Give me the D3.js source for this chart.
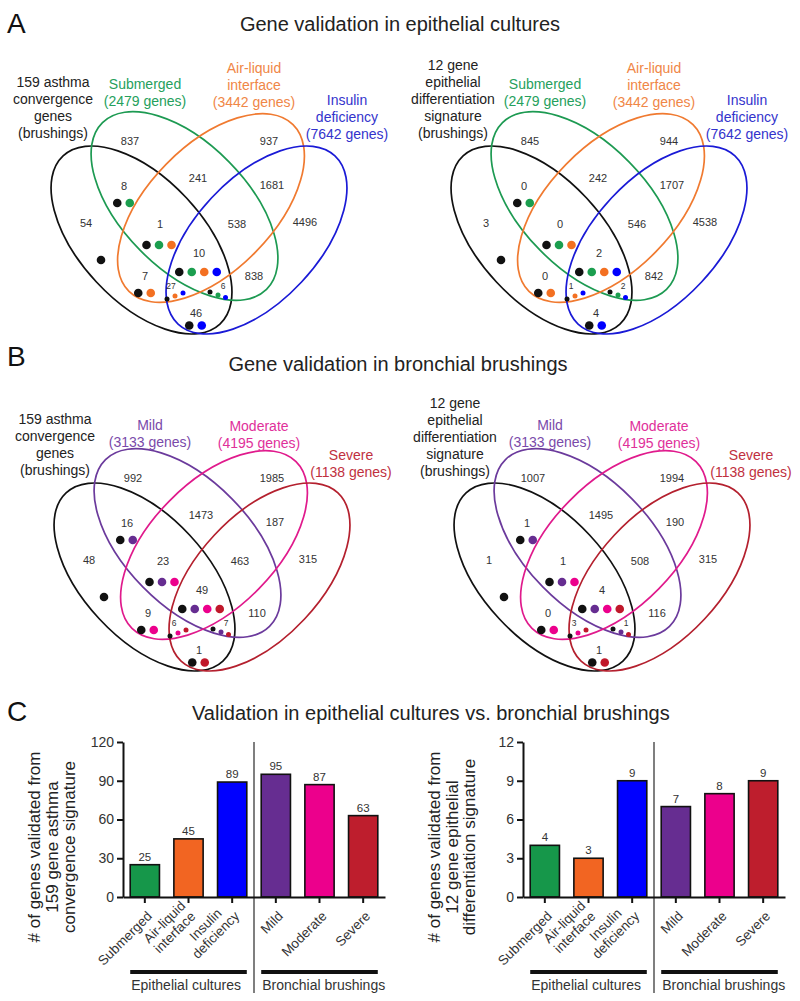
<!DOCTYPE html>
<html><head><meta charset="utf-8">
<script src="https://cdn.jsdelivr.net/npm/d3@7"></script>
<style>body{margin:0;background:#fff} svg{display:block} text{font-family:"Liberation Sans",Arial,sans-serif}</style>
</head><body><svg id="c" width="800" height="1001"></svg>
<script>
// ---------------- DATA ----------------
const regionKeys = ["S1","S2","S1S2","S2S3","KS1","K","KS1S2","S1S2S3","S3","KS1S2S3","KS2","S1S3","KS2S3","KS1S3","KS3"];
const vennA1Counts = [837,937,241,1681,8,54,1,538,4496,10,7,838,27,6,46];
const vennA2Counts = [845,944,242,1707,0,3,0,546,4538,2,0,842,1,2,4];
const vennB1Counts = [992,1985,1473,187,16,48,23,463,315,49,9,110,6,7,1];
const vennB2Counts = [1007,1994,1495,190,1,1,1,508,315,4,0,116,3,1,1];

const asthmaLabel = ["159 asthma","convergence","genes","(brushings)"];
const diffLabel = ["12 gene","epithelial","differentiation","signature","(brushings)"];
const cultureSets = [["Submerged","(2479 genes)"],["Air-liquid","interface","(3442 genes)"],["Insulin","deficiency","(7642 genes)"]];
const brushingSets = [["Mild","(3133 genes)"],["Moderate","(4195 genes)"],["Severe","(1138 genes)"]];

const barCategories = ["Submerged","Air-liquid interface","Insulin deficiency","Mild","Moderate","Severe"];
const barLabelLines = [["Submerged"],["Air-liquid","interface"],["Insulin","deficiency"],["Mild"],["Moderate"],["Severe"]];
const asthmaValidated = [25,45,89,95,87,63];
const diffValidated = [4,3,9,7,8,9];
const asthmaTicks = [0,30,60,90,120];
const diffTicks = [0,3,6,9,12];
const groupNames = ["Epithelial cultures","Bronchial brushings"];
const asthmaAxisTitle = ["# of genes validated from","159 gene asthma","convergence signature"];
const diffAxisTitle = ["# of genes validated from","12 gene epithelial","differentiation signature"];

// ---------------- STYLE / LAYOUT ----------------
const cultureStroke = ["#1d9a52","#f07a30","#1a1ad6"];
const cultureText = ["#25a05c","#f08646","#3333cc"];
const cultureDots = ["#1b9e4f","#f37021","#0000ff"];
const brushStroke = ["#6b3a9c","#e01a8c","#b4202e"];
const brushText = ["#7a4aaa","#e0309a","#c03040"];
const brushDots = ["#662d91","#ec008c","#c0182b"];
const barColors = ["#16974a","#f26522","#0000ff","#662d91","#ec008c","#be1e2d"];

const ellipseLayout = [
  {cx:141.5, cy:240, rx:115, ry:61.6, rot:47},
  {cx:184.5, cy:206, rx:117, ry:62.7, rot:45.5},
  {cx:211, cy:208, rx:117, ry:62.7, rot:-45.5},
  {cx:256.5, cy:240, rx:115, ry:61.6, rot:-47}
];
const regionLayout = {
  K:{x:86,y:223,dots:[[101,260]]},
  S1:{x:130,y:141}, S2:{x:269,y:141}, S1S2:{x:198,y:178}, S2S3:{x:272,y:185},
  KS1:{x:124,y:186,row:[123.5,203]},
  KS1S2:{x:160,y:224,row:[159,245]},
  S1S2S3:{x:237,y:224}, S3:{x:305,y:222},
  KS1S2S3:{x:199,y:253,row:[198,272]},
  KS2:{x:145,y:276,row:[144.5,293]},
  S1S3:{x:254,y:276},
  KS2S3:{x:171,y:286,small:true,dots:[[167,299],[175,296],[183,293]]},
  KS1S3:{x:223,y:286,small:true,dots:[[210,292],[218,295],[225.5,297.5]]},
  KS3:{x:196,y:313,row:[195.5,325.5]}
};

const svg = d3.select("#c");
const FONT = '"Liberation Sans",Arial,sans-serif';

// panel letters and titles
[["A",33],["B",366],["C",721]].forEach(([t,y])=>{
  svg.append("text").attr("x",7).attr("y",y).attr("font-size",28).attr("fill","#111").text(t);
});
svg.append("text").attr("x",400).attr("y",31).attr("text-anchor","middle").attr("font-size",20).attr("fill","#222").text("Gene validation in epithelial cultures");
svg.append("text").attr("x",398).attr("y",371).attr("text-anchor","middle").attr("font-size",20).attr("fill","#222").text("Gene validation in bronchial brushings");
svg.append("text").attr("x",192).attr("y",720).attr("text-anchor","start").attr("font-size",20).attr("fill","#222").text("Validation in epithelial cultures vs. bronchial brushings");

// ---------------- VENNS ----------------
const venns = [
  {dx:0,dy:0,counts:vennA1Counts,kLabel:asthmaLabel,sets:cultureSets,stroke:cultureStroke,text:cultureText,dots:cultureDots,
   kPos:{x:53,last:133},setPos:[{x:145,last:101},{x:254,last:102},{x:347,last:134}]},
  {dx:400,dy:0,counts:vennA2Counts,kLabel:diffLabel,sets:cultureSets,stroke:cultureStroke,text:cultureText,dots:cultureDots,
   kPos:{x:53,last:133},setPos:[{x:145,last:101},{x:254,last:102},{x:347,last:134}]},
  {dx:3,dy:337,counts:vennB1Counts,kLabel:asthmaLabel,sets:brushingSets,stroke:brushStroke,text:brushText,dots:brushDots,
   kPos:{x:52,last:133},setPos:[{x:147,last:105},{x:256,last:106},{x:348,last:135}]},
  {dx:403,dy:337,counts:vennB2Counts,kLabel:diffLabel,sets:brushingSets,stroke:brushStroke,text:brushText,dots:brushDots,
   kPos:{x:52,last:134},setPos:[{x:147,last:105},{x:256,last:106},{x:348,last:135}]}
];

function multiLine(g, lines, x, lastY, color, size, lh){
  const n = lines.length;
  lines.forEach((l,i)=>{
    g.append("text").attr("x",x).attr("y",lastY-(n-1-i)*lh).attr("dy","0.36em")
     .attr("text-anchor","middle").attr("font-size",size).attr("fill",color).text(l);
  });
}

venns.forEach(v=>{
  const g = svg.append("g").attr("transform",`translate(${v.dx},${v.dy})`);
  const strokes = ["#111"].concat(v.stroke);
  g.selectAll("ellipse").data(ellipseLayout).join("ellipse")
    .attr("cx",0).attr("cy",0).attr("rx",d=>d.rx).attr("ry",d=>d.ry)
    .attr("transform",d=>`translate(${d.cx},${d.cy}) rotate(${d.rot})`)
    .attr("fill","none").attr("stroke",(d,i)=>strokes[i]).attr("stroke-width",1.7);
  multiLine(g, v.kLabel, v.kPos.x, v.kPos.last, "#222", 14, 17);
  v.sets.forEach((s,i)=>multiLine(g, s, v.setPos[i].x, v.setPos[i].last, v.text[i], 14, 17));
  const dotCol = {K:"#111",S1:v.dots[0],S2:v.dots[1],S3:v.dots[2]};
  regionKeys.forEach((k,i)=>{
    const L = regionLayout[k];
    g.append("text").attr("x",L.x).attr("y",L.y).attr("dy","0.36em").attr("text-anchor","middle")
      .attr("font-size",L.small?8.5:11).attr("fill","#333").text(v.counts[i]);
    if(k.startsWith("K")){
      const members = k.match(/K|S\d/g);
      let pts;
      if(L.dots) pts = L.dots;
      else { const n=members.length, sp=12.5; pts = members.map((m,j)=>[L.row[0]+(j-(n-1)/2)*sp, L.row[1]]); }
      members.forEach((m,j)=>{
        g.append("circle").attr("cx",pts[j][0]).attr("cy",pts[j][1]).attr("r",L.small?2.5:4.3).attr("fill",dotCol[m]);
      });
    }
  });
});

// ---------------- BAR CHARTS ----------------
const charts = [
  {dx:0, values:asthmaValidated, ticks:asthmaTicks, max:120, title:asthmaAxisTitle},
  {dx:400, values:diffValidated, ticks:diffTicks, max:12, title:diffAxisTitle}
];
charts.forEach(c=>{
  const g = svg.append("g").attr("transform",`translate(${c.dx},0)`);
  const x = d3.scaleBand().domain(barCategories).range([123,385]).paddingInner(0.33).paddingOuter(0.165);
  const y = d3.scaleLinear().domain([0,c.max]).range([897,742]);
  const bw = x.bandwidth();
  g.selectAll("rect.bar").data(c.values).join("rect").attr("class","bar")
    .attr("x",(d,i)=>x(barCategories[i])).attr("width",bw)
    .attr("y",d=>y(d)).attr("height",d=>y(0)-y(d))
    .attr("fill",(d,i)=>barColors[i]).attr("stroke","#111").attr("stroke-width",1.6);
  g.selectAll("text.val").data(c.values).join("text").attr("class","val")
    .attr("x",(d,i)=>x(barCategories[i])+bw/2).attr("y",d=>y(d)-4)
    .attr("text-anchor","middle").attr("font-size",11.5).attr("fill","#333").text(d=>d);
  const divX = (x(barCategories[2])+bw + x(barCategories[3]))/2;
  g.append("line").attr("x1",divX).attr("x2",divX).attr("y1",742).attr("y2",993).attr("stroke","#555").attr("stroke-width",1.5);
  const ya = g.append("g").attr("transform","translate(123,0)")
    .call(d3.axisLeft(y).tickValues(c.ticks).tickSize(6).tickSizeOuter(0).tickPadding(3));
  ya.select(".domain").attr("stroke","#111").attr("stroke-width",2);
  ya.selectAll(".tick line").attr("stroke","#111").attr("stroke-width",2);
  ya.selectAll(".tick text").attr("font-size",14).attr("font-family",FONT).attr("fill","#333");
  const xa = g.append("g").attr("transform","translate(0,897)")
    .call(d3.axisBottom(x).tickSize(6).tickSizeOuter(0).tickFormat(""));
  xa.select(".domain").attr("stroke","#111").attr("stroke-width",2);
  xa.selectAll(".tick line").attr("stroke","#111").attr("stroke-width",2);
  // rotated category labels
  barLabelLines.forEach((lines,i)=>{
    const cx = x(barCategories[i])+bw/2;
    const lg = g.append("g").attr("transform",`translate(${cx+8},${917}) rotate(-45)`);
    const n = lines.length;
    const ts = lines.map((l,j)=>lg.append("text").attr("x",0).attr("y",-(n-1-j)*14.5)
      .attr("text-anchor","end").attr("font-size",13.5).attr("fill","#333").text(l));
    const ws = ts.map(t=>t.node().getComputedTextLength());
    const mw = d3.max(ws);
    ts.forEach((t,j)=>t.attr("x",-(mw-ws[j])/2));
  });
  const groups = [[0,2],[3,5]];
  groups.forEach((gr,i)=>{
    const x1 = x(barCategories[gr[0]]), x2 = x(barCategories[gr[1]])+bw;
    g.append("line").attr("x1",x1).attr("x2",x2).attr("y1",972).attr("y2",972).attr("stroke","#111").attr("stroke-width",4);
    g.append("text").attr("x",x1+1).attr("y",990).attr("font-size",14).attr("fill","#333").text(groupNames[i]);
  });
  const tg = g.append("g").attr("transform","translate(0,847)");
  c.title.forEach((l,j)=>{
    tg.append("text").attr("transform",`translate(${40+j*17.5},0) rotate(-90)`)
      .attr("text-anchor","middle").attr("font-size",17).attr("fill","#222").text(l);
  });
});
</script></body></html>
